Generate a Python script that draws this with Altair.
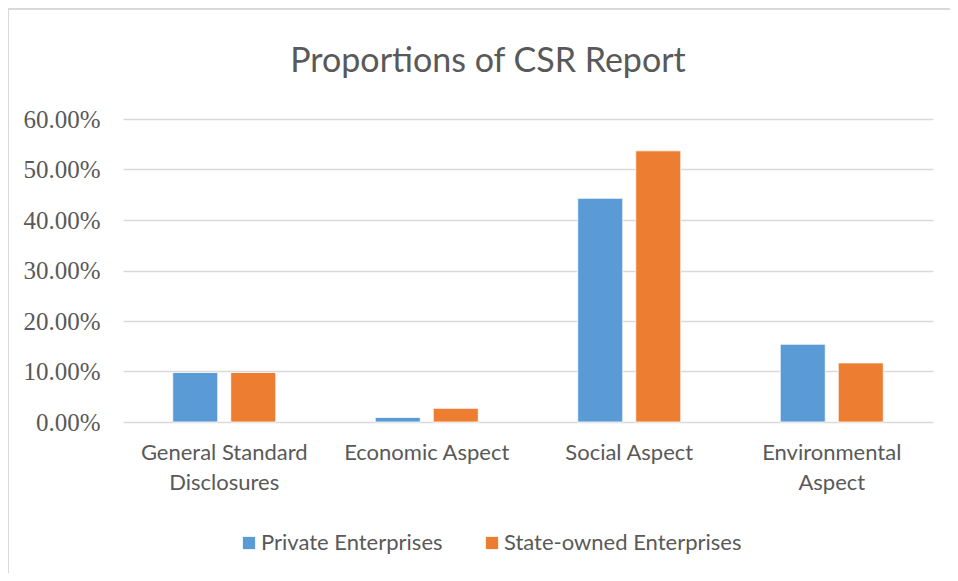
import altair as alt
import pandas as pd

categories = ["General Standard Disclosures", "Economic Aspect", "Social Aspect", "Environmental Aspect"]
series = ["Private Enterprises", "State-owned Enterprises"]
private_vals = [0.098, 0.009, 0.443, 0.154]
state_vals = [0.098, 0.027, 0.537, 0.117]
y_ticks = [0.0, 0.1, 0.2, 0.3, 0.4, 0.5, 0.6]
colors = ["#5B9BD5", "#ED7D31"]

rows = []
for c, p, s in zip(categories, private_vals, state_vals):
    rows.append({"category": c, "series": series[0], "value": p})
    rows.append({"category": c, "series": series[1], "value": s})
df = pd.DataFrame(rows)

GRAY = "#595959"

label_expr = (
    "datum.label == 'General Standard Disclosures' ? ['General Standard', 'Disclosures'] : "
    "datum.label == 'Environmental Aspect' ? ['Environmental', 'Aspect'] : datum.label"
)

bars = alt.Chart(df).mark_bar(stroke="white", strokeWidth=0.8).encode(
    x=alt.X("category:N", sort=categories,
            scale=alt.Scale(paddingInner=0, paddingOuter=0),
            axis=alt.Axis(title=None, labelAngle=0, ticks=False, domain=False,
                          labelFont="Lato", labelFontSize=22, labelColor=GRAY,
                          labelPadding=20, labelLineHeight=30, labelExpr=label_expr,
                          labelBaseline="top")),
    xOffset=alt.XOffset("series:N", sort=series,
                        scale=alt.Scale(paddingInner=0.224, paddingOuter=0.857)),
    y=alt.Y("value:Q", scale=alt.Scale(domain=[0, 0.6], nice=False),
            axis=alt.Axis(title=None, values=y_ticks, format=".2%", ticks=False, domain=False,
                          labelFont="Liberation Serif", labelFontSize=25, labelColor=GRAY,
                          labelPadding=23, grid=True, gridColor="#d9d9d9", gridWidth=1.5)),
    color=alt.Color("series:N", sort=series,
                    scale=alt.Scale(domain=series, range=colors),
                    legend=alt.Legend(title=None, orient="none", direction="horizontal",
                                      legendX=115, legendY=413,
                                      symbolType="square", symbolSize=150,
                                      symbolStrokeWidth=0, labelFont="Lato",
                                      labelFontSize=22, labelColor=GRAY, labelLimit=0,
                                      labelOffset=1, columnPadding=38)),
)

border_data = alt.Data(values=[{"a": 1}])
border_left = alt.Chart(border_data).mark_rule(color="#d9d9d9", strokeWidth=2).encode(
    x=alt.value(-115), y=alt.value(-110), y2=alt.value(460))
border_top = alt.Chart(border_data).mark_rule(color="#d9d9d9", strokeWidth=2).encode(
    x=alt.value(-115), x2=alt.value(840), y=alt.value(-110))

chart = alt.layer(bars, border_left, border_top).properties(
    width=810, height=303,
    title=alt.Title("Proportions of CSR Report", font="Lato", fontSize=34,
                    fontWeight="normal", color=GRAY, anchor="middle", dx=-40,
                    offset=0, dy=71),
    autosize=alt.AutoSizeParams(type="none"),
    padding={"left": 115, "top": 111, "right": 17, "bottom": 151},
).configure(background="white", view=alt.ViewConfig(stroke=None))

chart.save("out.html", embed_options={"renderer": "svg", "actions": False})
